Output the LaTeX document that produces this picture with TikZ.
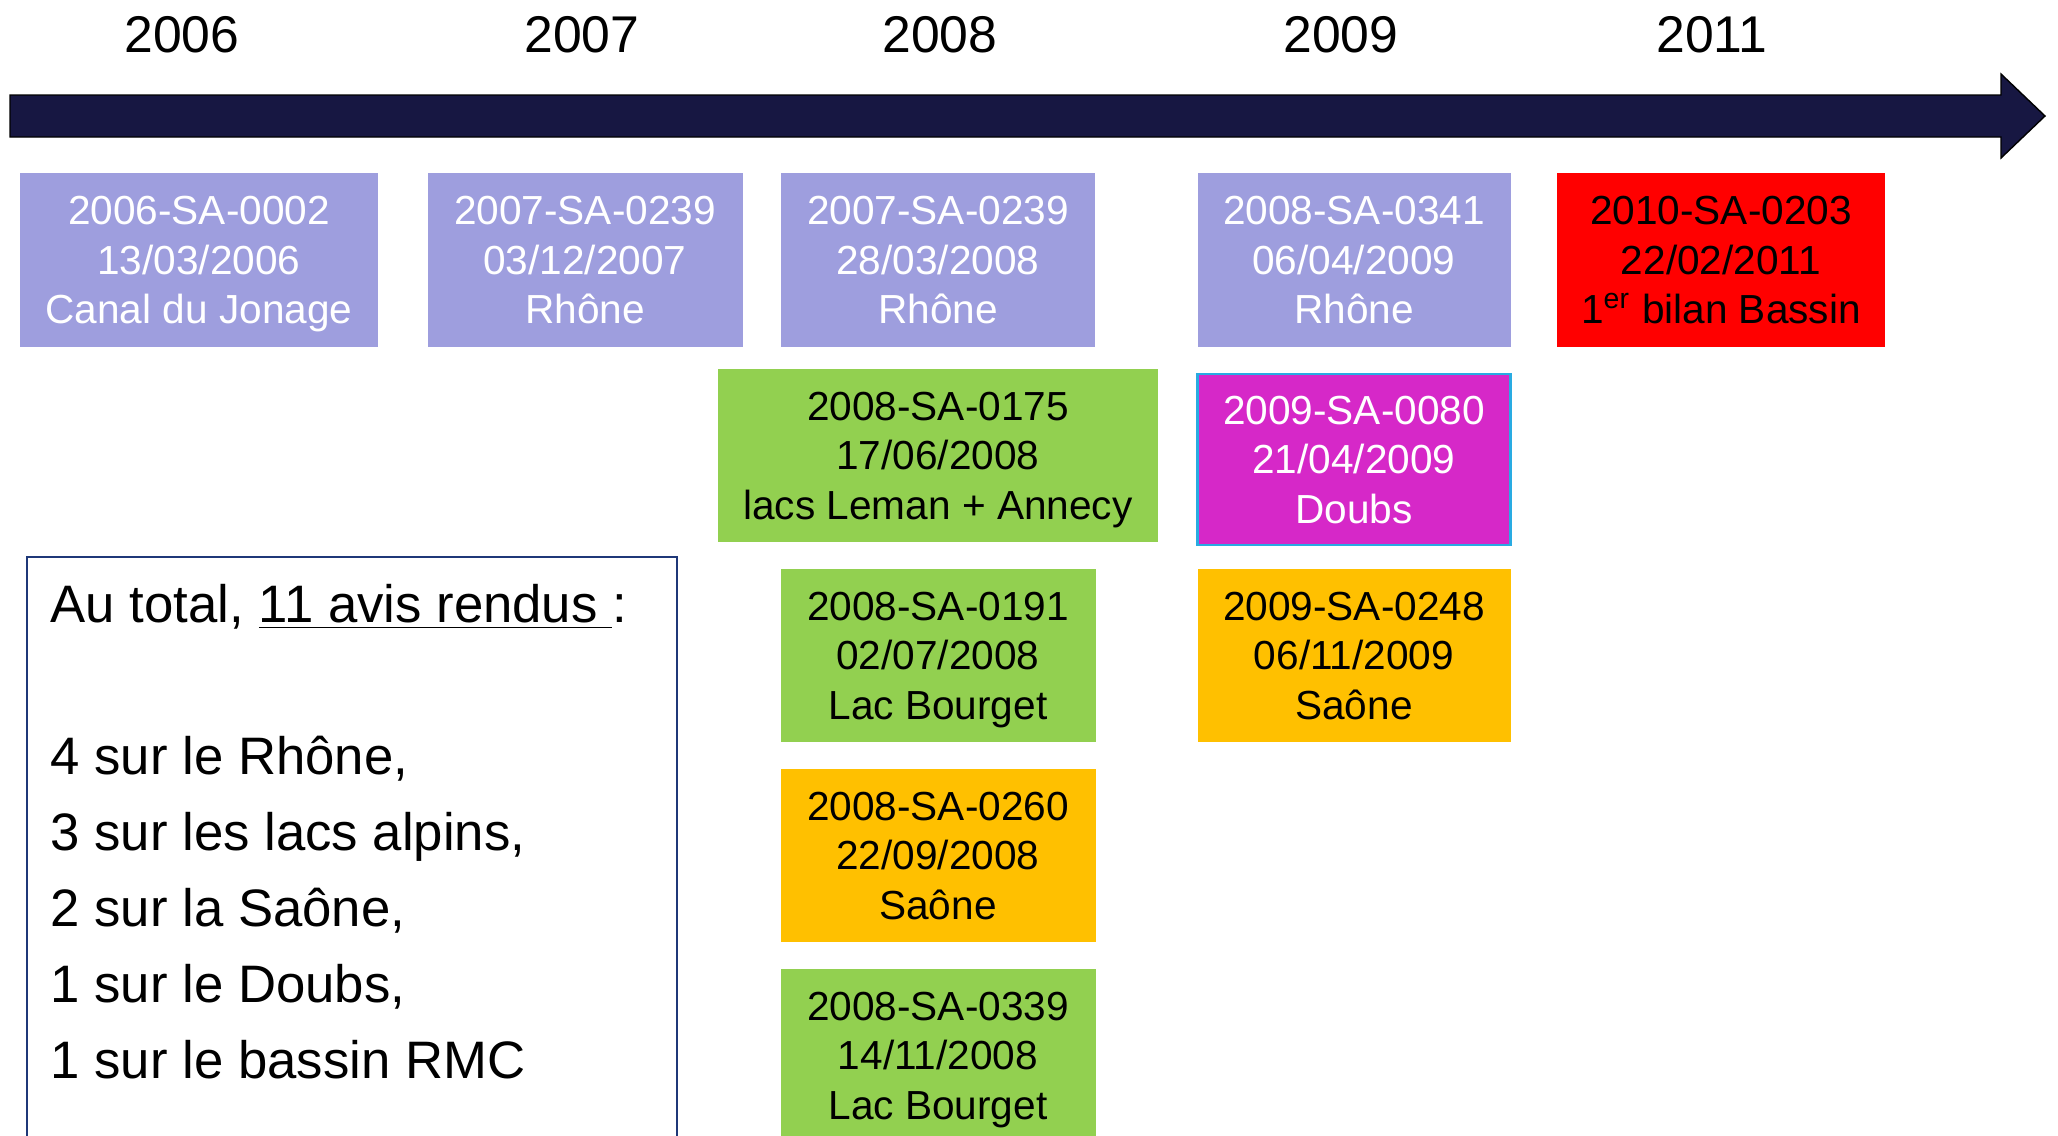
\documentclass[tikz,border=0pt]{standalone}
\usepackage{fontspec}
\setmainfont{Liberation Sans}
\usepackage{tikz}
\usetikzlibrary{positioning}
\definecolor{navyline}{RGB}{23,23,66}
\definecolor{lavender}{RGB}{158,158,222}
\definecolor{leaf}{RGB}{146,208,80}
\definecolor{amber}{RGB}{255,192,0}
\definecolor{fuchsia}{RGB}{214,40,200}
\definecolor{skyline}{RGB}{41,171,226}
\definecolor{framecol}{RGB}{31,56,120}
\tikzset{%
  year/.style = {inner sep=0pt, font=\fontsize{14.7}{17}\selectfont},
  avis/.style = {rectangle, minimum width=3.15cm, minimum height=1.73cm,
      inner sep=0pt, outer sep=0pt, text depth=0pt, align=center,
      font=\fontsize{11.55}{14.1}\selectfont},
  rhone/.style = {avis, fill=lavender, text=white},
  lacs/.style = {avis, fill=leaf},
  saone/.style = {avis, fill=amber},
  doubs/.style = {avis, fill=fuchsia, text=white, draw=skyline,
      line width=0.6pt, minimum height=1.71cm},
  bassin/.style = {avis, fill=red},
  total/.style = {anchor=base west, inner sep=0pt,
      font=\fontsize{15}{18}\selectfont},
}
\begin{document}
\begin{tikzpicture}[x=0.1mm, y=-0.1mm]
  \useasboundingbox (0,0) rectangle (2058,1136);
  % Frise chronologique
  \draw[fill=navyline, line width=0.4pt] (10,95) -- (2001,95) -- (2001,74)
     -- (2045,116) -- (2001,158) -- (2001,137) -- (10,137) -- cycle;
  % Annees
  \node (y2006) [year] at (182,35)  {2006};
  \node (y2007) [year] at (582,35)  {2007};
  \node (y2008) [year] at (940,35)  {2008};
  \node (y2009) [year] at (1341,35) {2009};
  \node (y2011) [year] at (1712,35) {2011};
  % Avis, premiere ligne
  \node (sa0002)  [rhone, minimum width=3.58cm, minimum height=1.74cm]
                  at (199,260)  {2006-SA-0002\\13/03/2006\\Canal du Jonage};
  \node (sa0239)  [rhone, minimum height=1.74cm] at (585,260)
                                  {2007-SA-0239\\03/12/2007\\Rhône};
  \node (sa0239b) [rhone, minimum width=3.14cm, minimum height=1.74cm]
                  at (938,260)  {2007-SA-0239\\28/03/2008\\Rhône};
  \node (sa0341)  [rhone, minimum width=3.13cm, minimum height=1.74cm]
                  at (1354,260) {2008-SA-0341\\06/04/2009\\Rhône};
  \node (sa0203)  [bassin, minimum width=3.28cm, minimum height=1.74cm]
                  at (1721,260)
                  {2010-SA-0203\\22/02/2011\\1\textsuperscript{er} bilan Bassin};
  % Avis 2008, colonne
  \node (sa0175)  [lacs, minimum width=4.40cm, below=0.22cm of sa0239b]
                                  {2008-SA-0175\\17/06/2008\\lacs Leman + Annecy};
  \node (sa0191)  [lacs, below=0.27cm of sa0175]
                                  {2008-SA-0191\\02/07/2008\\Lac Bourget};
  \node (sa0260)  [saone, below=0.27cm of sa0191]
                                  {2008-SA-0260\\22/09/2008\\Saône};
  \node (sa0339)  [lacs, below=0.27cm of sa0260]
                                  {2008-SA-0339\\14/11/2008\\Lac Bourget};
  % Avis 2009, colonne
  \node (sa0080)  [doubs, minimum width=3.13cm, below=0.27cm of sa0341]
                                  {2009-SA-0080\\21/04/2009\\Doubs};
  \node (sa0248)  [saone, minimum width=3.13cm, below=0.24cm of sa0080]
                                  {2009-SA-0248\\06/11/2009\\Saône};
  % Bilan
  \draw[framecol, line width=0.6pt] (27,557) rectangle (677,1160);
  \node (total)   [total] at (50,622)  {Au total, \underline{11 avis rendus }:};
  \node (nRhone)  [total] at (50,774)  {4 sur le Rhône,};
  \node (nLacs)   [total] at (50,850)  {3 sur les lacs alpins,};
  \node (nSaone)  [total] at (50,926)  {2 sur la Saône,};
  \node (nDoubs)  [total] at (50,1002) {1 sur le Doubs,};
  \node (nBassin) [total] at (50,1078) {1 sur le bassin RMC};
\end{tikzpicture}
\end{document}
